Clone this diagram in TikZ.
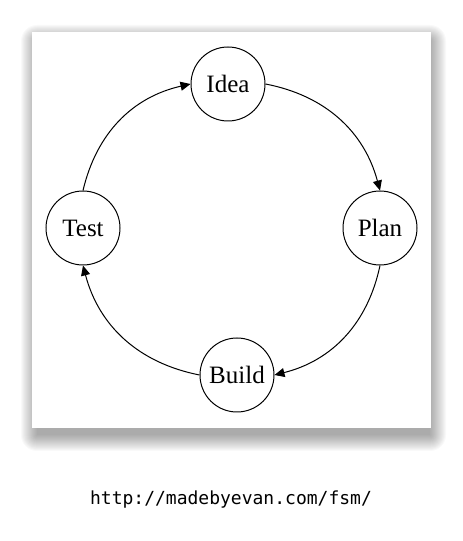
\documentclass[tikz,border=0pt]{standalone}
\usepackage{fontspec}
\setmainfont{Liberation Serif}
\newfontfamily\urlfont{DejaVu Sans Mono}
\usetikzlibrary{arrows.meta}

\begin{document}
\begin{tikzpicture}[
    x=1pt, y=1pt,
    state/.style={draw=black, circle, line width=1pt, minimum size=74pt, inner sep=0pt, font=\fontsize{25}{28}\selectfont},
    transition/.style={draw=black, line width=1pt, -{Triangle[length=10pt,width=9pt]}},
    shade/.style={fill=black, opacity=0.022}
]
\useasboundingbox (0,0) rectangle (463,541);

% Panel with shadow
\foreach \i in {0,...,16}
    \fill[shade, rounded corners={\i pt}] ({37-\i},{106-\i}) rectangle ({430+\i},{500+\i});
\fill[white] (32,113) rectangle (431,509);

% States
\node[state] (idea) at (228,457) {Idea};
\node[state] (plan) at (380,313) {Plan};
\node[state] (build) at (237,166) {Build};
\node[state] (test) at (83,313) {Test};

% Transitions
\draw[transition] (test.north) to[bend left=32] (idea.west);
\draw[transition] (idea.east) to[bend left=32] (plan.north);
\draw[transition] (plan.south) to[bend left=32] (build.east);
\draw[transition] (build.west) to[bend left=32] (test.south);

% Source
\node[font=\urlfont\fontsize{18}{20}\selectfont] (source) at (231,41) {http://madebyevan.com/fsm/};

\end{tikzpicture}
\end{document}
